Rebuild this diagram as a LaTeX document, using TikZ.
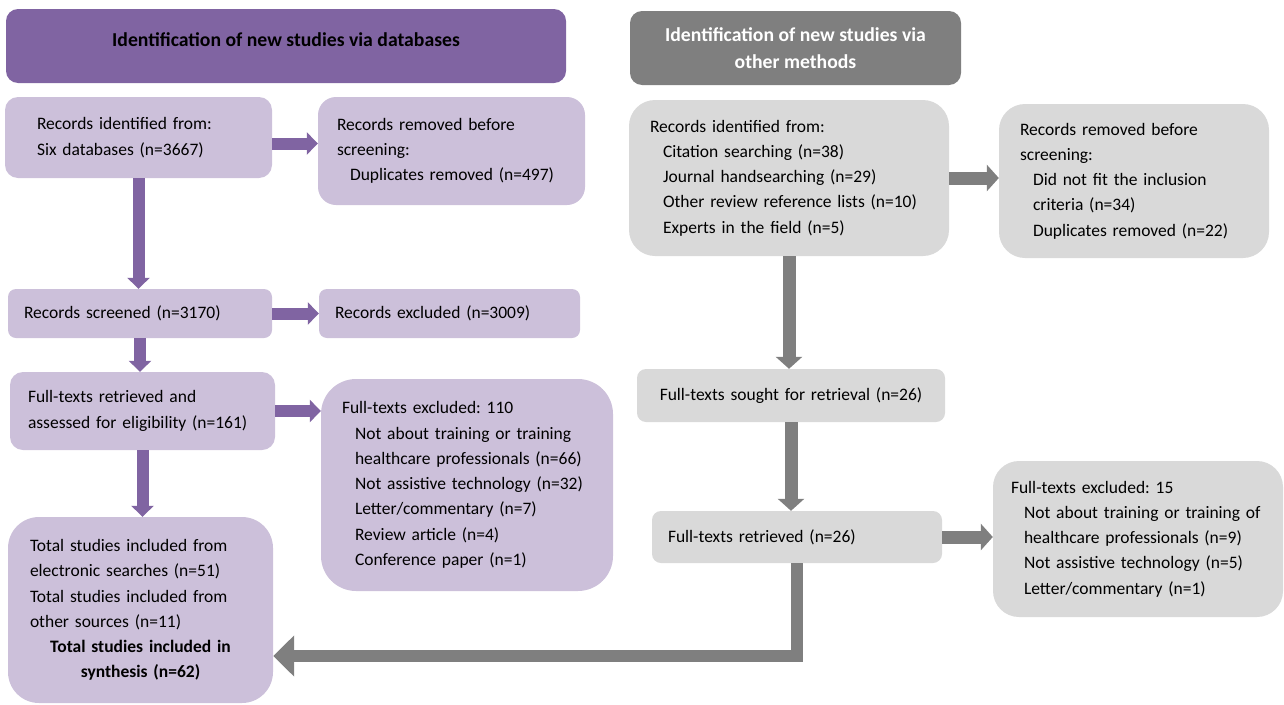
\documentclass[tikz,border=0pt]{standalone}
\usepackage{fontspec}
\setmainfont{Carlito}
\usetikzlibrary{arrows.meta,calc}
\definecolor{dbpurple}{HTML}{8064A2}
\definecolor{dblight}{HTML}{CCC0DA}
\definecolor{othgrey}{HTML}{7F7F7F}
\definecolor{othlight}{HTML}{D9D9D9}
\newcommand{\ind}{\hspace*{13pt}}

\begin{document}
\begin{tikzpicture}[x=1pt,y=-1pt]
\tikzset{
  flowbox/.style={rectangle,inner ysep=0pt,align=left,font=\fontsize{17.5}{25.3}\selectfont\frenchspacing},
  dbbox/.style={flowbox,fill=dblight},
  othbox/.style={flowbox,fill=othlight},
  headbox/.style={rectangle,rounded corners=12pt,align=center,inner sep=0pt,font=\fontsize{19.7}{27}\selectfont\bfseries},
  dbarrow/.style={draw=dbpurple,line width=12pt,-{Triangle[width=22pt,length=11pt]}},
  otharrow/.style={draw=othgrey,line width=13pt,-{Triangle[width=26pt,length=12pt]}},
  backarrow/.style={draw=othgrey,line width=12pt,line join=miter,-{Triangle[width=40pt,length=21pt]}}
}
\useasboundingbox (0,0) rectangle (1284,704);
\node[headbox,fill=dbpurple,text=black,text depth=13pt,minimum width=560pt,minimum height=74pt] (dbhead) at (286,46) {Identification of new studies via databases};
\node[headbox,fill=othgrey,text=white,minimum width=331pt,minimum height=74pt] (othhead) at (795.5,48) {Identification of new studies via\\other methods};
\node[dbbox,minimum width=267pt,minimum height=81pt,text width=203pt,inner xsep=32pt,rounded corners=13pt] (recdb) at (138.5,137.5) {Records identified from:\\Six databases (n=3667)};
\node[dbbox,minimum width=267pt,minimum height=108pt,text width=229pt,inner xsep=19pt,rounded corners=18pt] (remdb) at (451.5,151) {Records removed before\\screening:\\\ind Duplicates removed (n=497)};
\node[dbbox,minimum width=264pt,minimum height=49pt,text width=232pt,inner xsep=16pt,rounded corners=8pt] (screened) at (140,313.5) {Records screened (n=3170)};
\node[dbbox,minimum width=261pt,minimum height=49pt,text width=229pt,inner xsep=16pt,rounded corners=8pt] (excluded) at (449.5,313.5) {Records excluded (n=3009)};
\node[dbbox,minimum width=265pt,minimum height=78pt,text width=229pt,inner xsep=18pt,rounded corners=13pt] (ftdb) at (142.5,411) {Full-texts retrieved and\\assessed for eligibility (n=161)};
\node[dbbox,minimum width=292pt,minimum height=212pt,text width=250pt,inner xsep=21pt,rounded corners=35pt] (ftexcldb) at (467,485) {Full-texts excluded: 110\\\ind Not about training or training\\\ind healthcare professionals (n=66)\\\ind Not assistive technology (n=32)\\\ind Letter/commentary (n=7)\\\ind Review article (n=4)\\\ind Conference paper (n=1)};
\node[dbbox,minimum width=265pt,minimum height=186pt,text width=221pt,inner xsep=22pt,rounded corners=31pt] (total) at (140.5,610) {Total studies included from\\electronic searches (n=51)\\Total studies included from\\other sources (n=11)\par{\centering\bfseries Total studies included in\\synthesis (n=62)\par}};
\node[othbox,minimum width=320pt,minimum height=156pt,text width=278pt,inner xsep=21pt,rounded corners=26pt] (recoth) at (789,178) {Records identified from:\\\ind Citation searching (n=38)\\\ind Journal handsearching (n=29)\\\ind Other review reference lists (n=10)\\\ind Experts in the field (n=5)};
\node[othbox,minimum width=270pt,minimum height=154pt,text width=228pt,inner xsep=21pt,rounded corners=26pt] (remoth) at (1134,181) {Records removed before\\screening:\\\ind Did not fit the inclusion\\\ind criteria (n=34)\\\ind Duplicates removed (n=22)};
\node[othbox,align=center,minimum width=308pt,minimum height=53pt,text width=290pt,inner xsep=9pt,rounded corners=9pt] (sought) at (791,395.5) {Full-texts sought for retrieval (n=26)};
\node[othbox,minimum width=290pt,minimum height=52pt,text width=258pt,inner xsep=16pt,rounded corners=9pt] (retr) at (797,537) {Full-texts retrieved (n=26)};
\node[othbox,minimum width=290pt,minimum height=156pt,text width=254pt,inner xsep=18pt,rounded corners=26pt] (ftexcloth) at (1138,539) {Full-texts excluded: 15\\\ind Not about training or training of\\\ind healthcare professionals (n=9)\\\ind Not assistive technology (n=5)\\\ind Letter/commentary (n=1)};
\draw[dbarrow] ($(recdb.east)+(0,6)$) -- ($(remdb.west |- recdb.east)+(0,6)$);
\draw[dbarrow] (recdb.south) -- (recdb.south |- screened.north);
\draw[dbarrow] (screened.east) -- (screened.east -| excluded.west);
\draw[dbarrow] (screened.south) -- (screened.south |- ftdb.north);
\draw[dbarrow] (ftdb.east) -- (ftdb.east -| ftexcldb.west);
\draw[dbarrow] (ftdb.south) -- (ftdb.south |- total.north);
\draw[otharrow] (recoth.east) -- (recoth.east -| remoth.west);
\draw[otharrow] (recoth.south) -- (recoth.south |- sought.north);
\draw[otharrow] (sought.south) -- (sought.south |- retr.north);
\draw[otharrow] (retr.east) -- (retr.east -| ftexcloth.west);
\draw[backarrow] (retr.south) |- ($(total.east)+(0,46)$);
\end{tikzpicture}
\end{document}
